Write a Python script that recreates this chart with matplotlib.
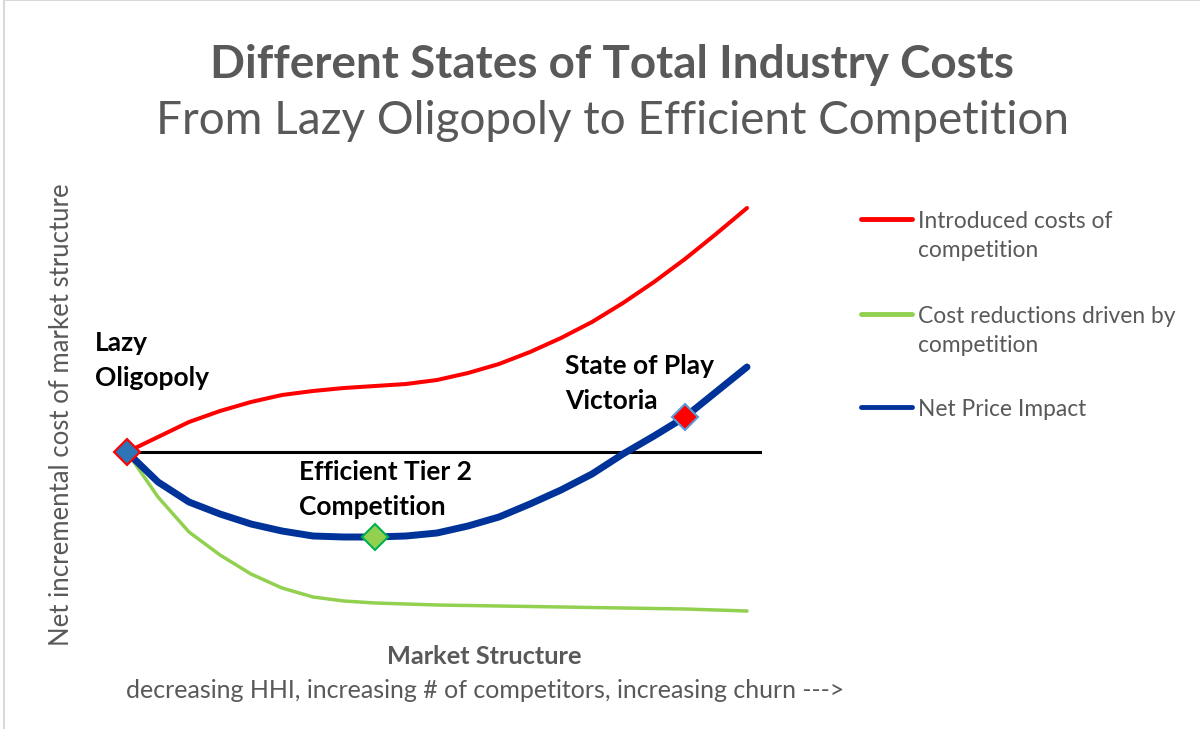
import matplotlib
matplotlib.use("Agg")
import matplotlib.pyplot as plt
from matplotlib.lines import Line2D
from matplotlib.patches import Rectangle

plt.rcParams['font.family'] = ['Lato', 'DejaVu Sans']

# ---- data ----
x = list(range(21))
introduced_costs = [0, 1.5, 3.0, 4.1, 5.0, 5.7, 6.1, 6.4, 6.6, 6.8, 7.2, 7.9, 8.8,
                    10.0, 11.4, 13.0, 14.9, 17.0, 19.3, 21.8, 24.4]
cost_reductions = [0, -4.5, -8.0, -10.3, -12.2, -13.6, -14.5, -14.9, -15.1, -15.2,
                   -15.3, -15.35, -15.4, -15.45, -15.5, -15.55, -15.6, -15.65,
                   -15.7, -15.8, -15.9]
net_price = [0, -3.0, -5.0, -6.2, -7.2, -7.9, -8.4, -8.5, -8.5, -8.4, -8.1, -7.4,
             -6.5, -5.2, -3.8, -2.2, -0.2, 1.6, 3.5, 6.0, 8.5]
series_labels = ["Introduced costs of\ncompetition",
                 "Cost reductions driven by\ncompetition",
                 "Net Price Impact"]
series_colors = ["#FF0000", "#92D050", "#003399"]
series_widths = [2.9, 2.5, 5.0]

# highlighted states (index on x, label)
state_idx = [0, 8, 18]
state_labels = ["Lazy\nOligopoly", "Efficient Tier 2\nCompetition", "State of Play\nVictoria"]

W, H = 1200, 729
fig = plt.figure(figsize=(W / 100, H / 100), dpi=100)

def fx(px):
    return px / W

def fy(py):
    return 1 - py / H

# outer border
fig.add_artist(Rectangle((fx(4), fy(760)), 1.2, 760 / H, transform=fig.transFigure,
                         fill=False, edgecolor="#D9D9D9", linewidth=1.5))

ax_l, ax_r, ax_t, ax_b = 123, 762, 190, 640
ax = fig.add_axes([fx(ax_l), fy(ax_b), (ax_r - ax_l) / W, (ax_b - ax_t) / H])
ax.set_xlim(-4 / 31, 20 + 15 / 31)
ax.set_ylim((452 - ax_b) / 10, (452 - ax_t) / 10)
ax.axis('off')

ax.axhline(0, color="black", linewidth=2.2, zorder=1)
for vals, c, lw in zip([introduced_costs, cost_reductions, net_price], series_colors, series_widths):
    ax.plot(x, vals, color=c, linewidth=lw, solid_capstyle='round', zorder=2)

# markers
mk_face = ["#2E75B6", "#92D050", "#FF0000"]
mk_edge = ["#FF0000", "#00B050", "#5B9BD5"]
for i, fc, ec in zip(state_idx, mk_face, mk_edge):
    ax.plot(x[i], net_price[i], marker='D', markersize=13, markerfacecolor=fc,
            markeredgecolor=ec, markeredgewidth=1.5, zorder=5, linestyle='none',
            clip_on=False)

# state labels
label_pos = [(95, 331), (299, 460), (565, 354)]
for (px, py), t in zip(label_pos, state_labels):
    fig.text(fx(px), fy(py), t, fontsize=19, fontweight='bold', color="black",
             ha='left', va='top', linespacing=1.55)

# titles
fig.text(fx(612), fy(78), "Different States of Total Industry Costs", fontsize=33,
         fontweight='bold', color="#595959", ha='center', va='baseline')
fig.text(fx(612), fy(134), "From Lazy Oligopoly to Efficient Competition", fontsize=33,
         color="#595959", ha='center', va='baseline')

# axis titles
fig.text(fx(62), fy(415), "Net incremental cost of market structure", fontsize=18.5,
         color="#595959", rotation=90, ha='center', va='center')
fig.text(fx(484), fy(657), "Market Structure", fontsize=18.3, fontweight='bold',
         color="#595959", ha='center', va='center')
fig.text(fx(485), fy(690), "decreasing HHI, increasing # of competitors, increasing churn --->",
         fontsize=18, color="#595959", ha='center', va='center')

# legend (manual)
leg_y = [219, 314, 407]
for yy, lab, c in zip(leg_y, series_labels, series_colors):
    fig.add_artist(Line2D([fx(861), fx(912)], [fy(yy), fy(yy)], transform=fig.transFigure,
                          color=c, linewidth=3.5, solid_capstyle='round'))
    fig.text(fx(918), fy(yy - 8), lab, fontsize=16.4, color="#595959", ha='left', va='top',
             linespacing=1.45)

fig.savefig("out.png", dpi=100)
